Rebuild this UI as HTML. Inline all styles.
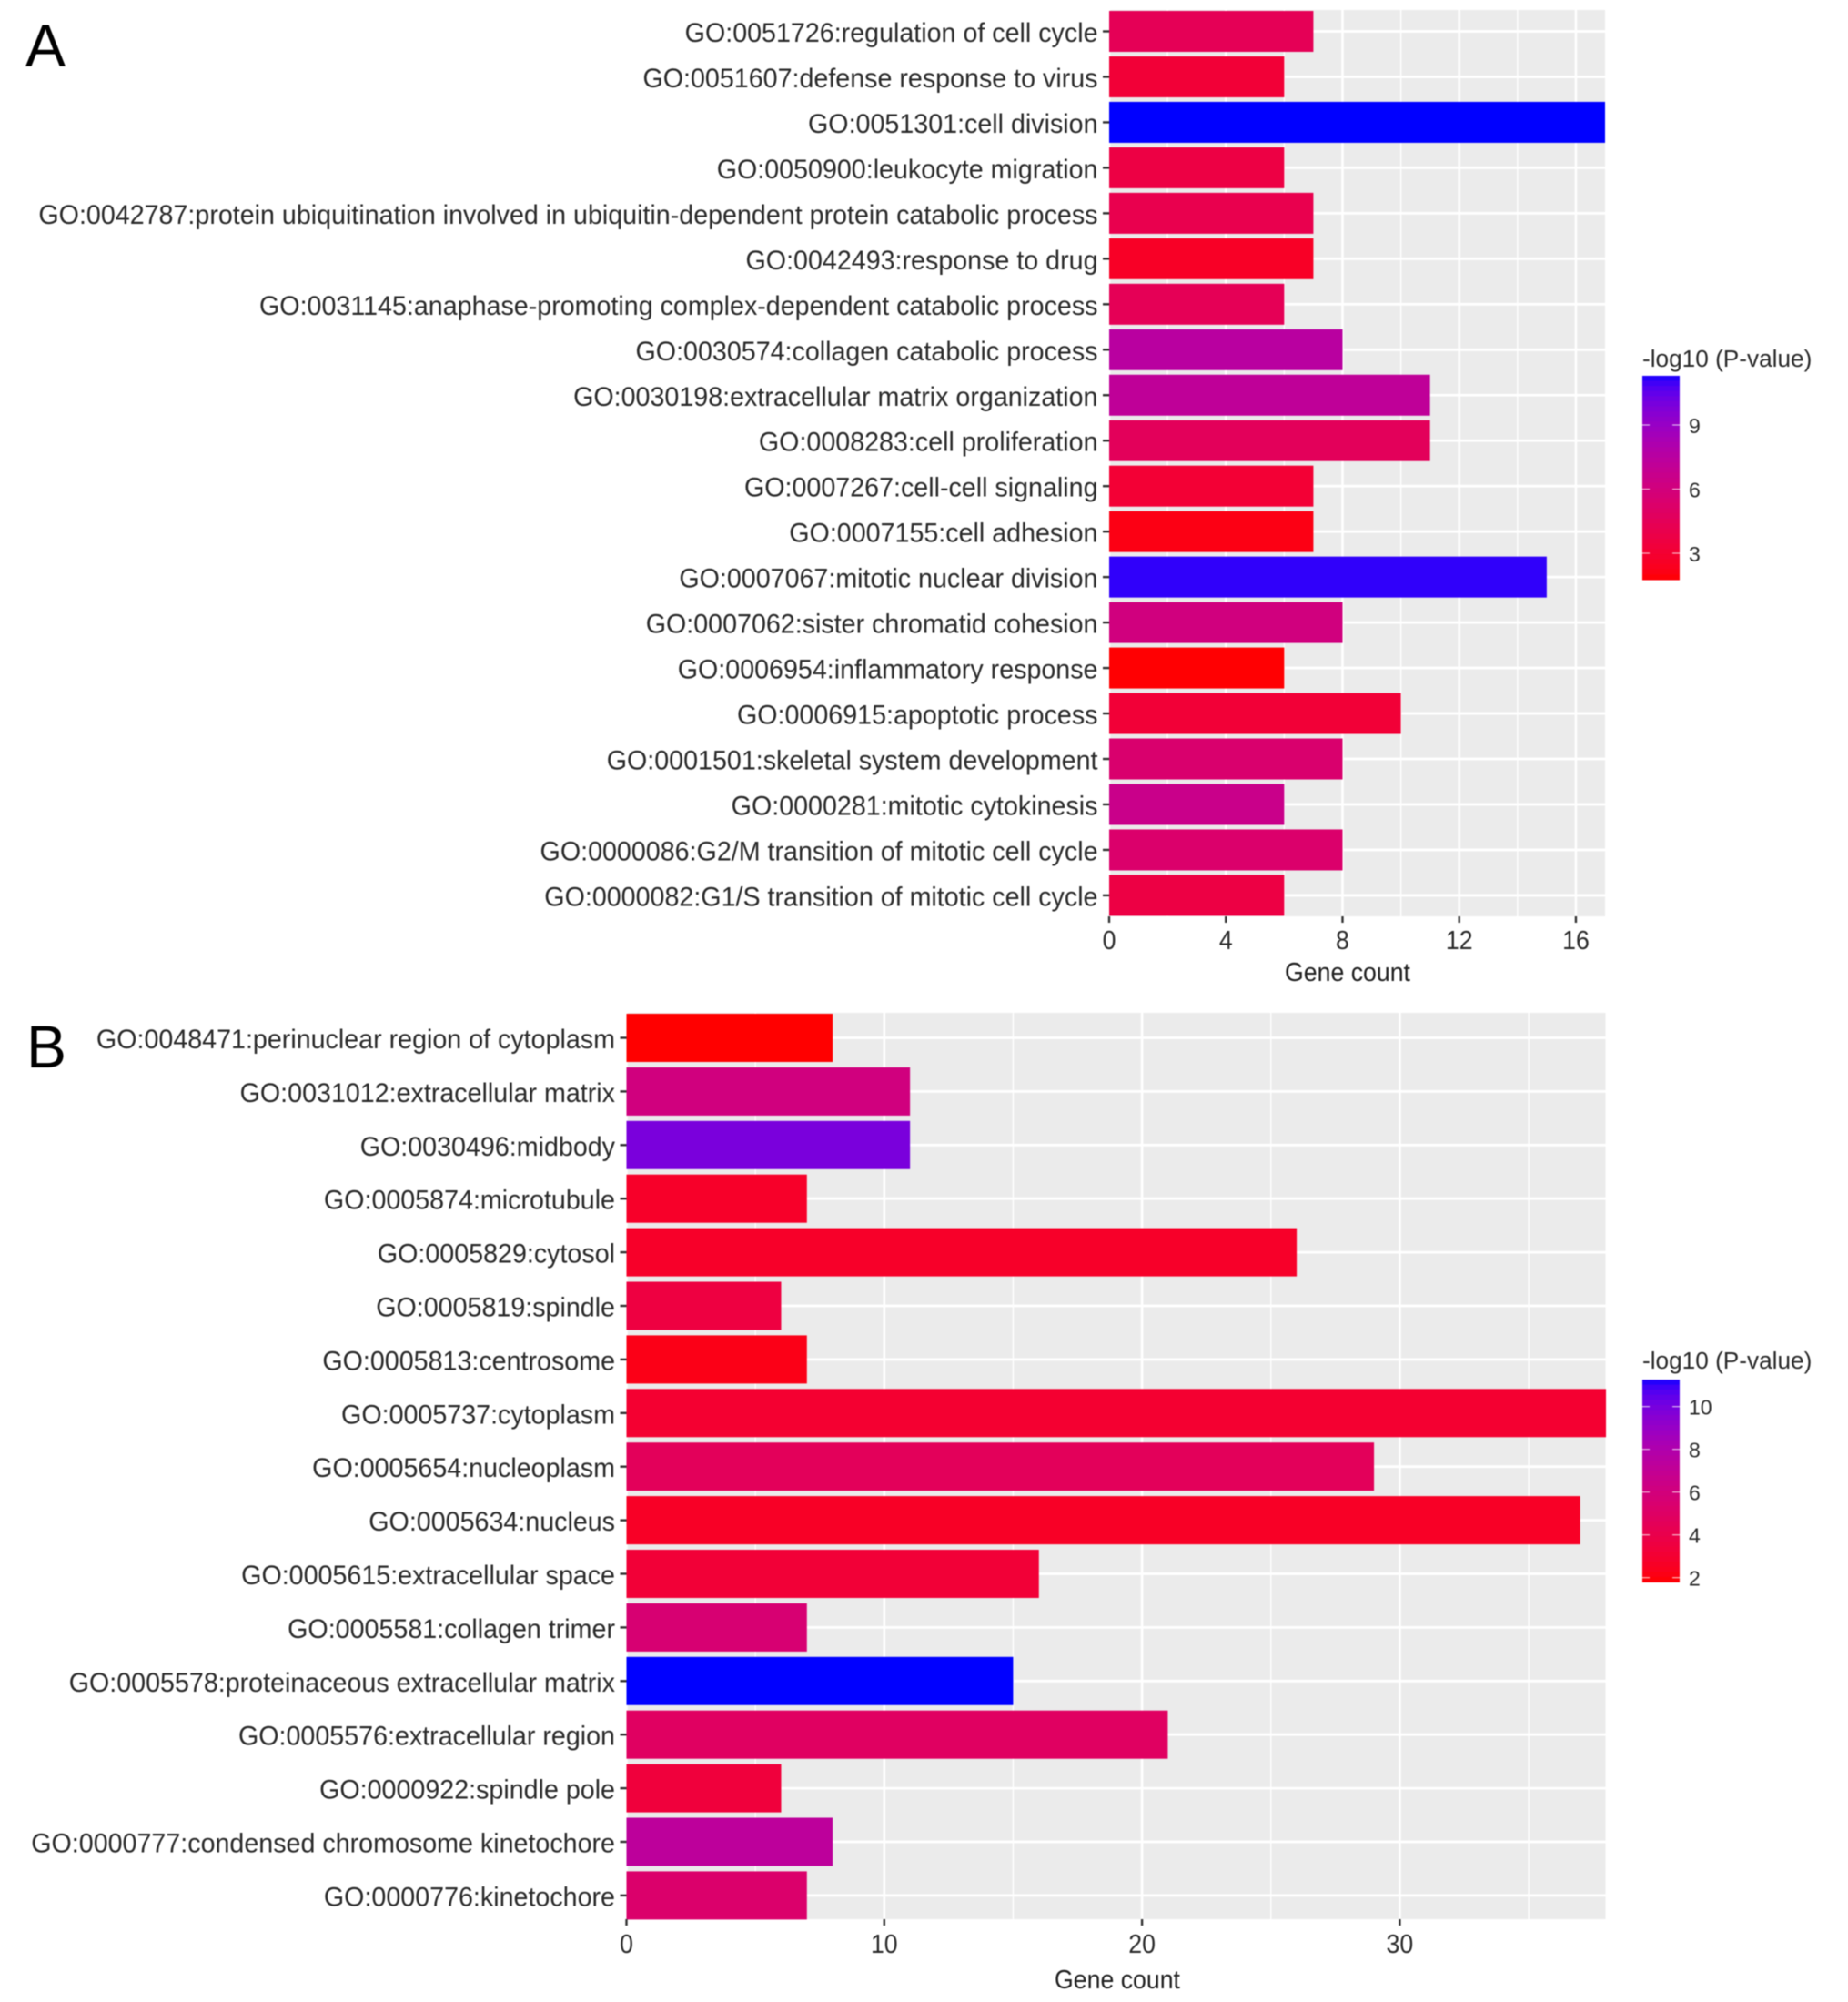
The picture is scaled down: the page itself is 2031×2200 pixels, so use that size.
<!DOCTYPE html>
<html>
<head>
<meta charset="utf-8">
<style>
html,body{margin:0;padding:0;background:#fff;width:2031px;height:2200px;overflow:hidden}
svg{display:block;filter:blur(0.6px)}
text{font-family:"Liberation Sans",sans-serif}
</style>
</head>
<body>
<svg id="figure" xmlns="http://www.w3.org/2000/svg" width="2031" height="2200" viewBox="0 0 2031 2200">
  <rect width="2031" height="2200" fill="#fff"/>
  <text x="28" y="73" font-size="66" fill="#000">A</text>
  <text x="29" y="1173" font-size="66" fill="#000">B</text>
  <g id="panelA"></g>
  <g id="panelB"></g>
</svg>
<script>
const termsA = ["GO:0051726:regulation of cell cycle","GO:0051607:defense response to virus","GO:0051301:cell division","GO:0050900:leukocyte migration","GO:0042787:protein ubiquitination involved in ubiquitin-dependent protein catabolic process","GO:0042493:response to drug","GO:0031145:anaphase-promoting complex-dependent catabolic process","GO:0030574:collagen catabolic process","GO:0030198:extracellular matrix organization","GO:0008283:cell proliferation","GO:0007267:cell-cell signaling","GO:0007155:cell adhesion","GO:0007067:mitotic nuclear division","GO:0007062:sister chromatid cohesion","GO:0006954:inflammatory response","GO:0006915:apoptotic process","GO:0001501:skeletal system development","GO:0000281:mitotic cytokinesis","GO:0000086:G2/M transition of mitotic cell cycle","GO:0000082:G1/S transition of mitotic cell cycle"];
const countsA = [7,6,17,6,7,7,6,8,11,11,7,7,15,8,6,10,8,6,8,6];
const pValuesA = [4.4,3.2,11.3,3.7,4.1,2.6,4.4,7.5,7.2,4.6,3.1,2.1,11.1,6.1,1.8,3.2,5.4,6.6,5.3,3.7];
const xTicksA = [0,4,8,12,16];
const xMinorA = [2,6,10,14];
const legendTicksA = [3,6,9];

const termsB = ["GO:0048471:perinuclear region of cytoplasm","GO:0031012:extracellular matrix","GO:0030496:midbody","GO:0005874:microtubule","GO:0005829:cytosol","GO:0005819:spindle","GO:0005813:centrosome","GO:0005737:cytoplasm","GO:0005654:nucleoplasm","GO:0005634:nucleus","GO:0005615:extracellular space","GO:0005581:collagen trimer","GO:0005578:proteinaceous extracellular matrix","GO:0005576:extracellular region","GO:0000922:spindle pole","GO:0000777:condensed chromosome kinetochore","GO:0000776:kinetochore"];
const countsB = [8,11,11,7,26,6,7,38,29,37,16,7,15,21,6,8,7];
const pValuesB = [1.8,6.1,9.9,2.7,2.7,3.6,2.2,3.0,4.6,2.6,3.2,5.6,11.26,4.9,3.4,7.3,5.3];
const xTicksB = [0,10,20,30];
const xMinorB = [5,15,25,35];
const legendTicksB = [2,4,6,8,10];

const NS = "http://www.w3.org/2000/svg";
const LABEL_SQUEEZE = 0.955;
const TICK_SQUEEZE = 0.92;

function mk(parent, tag, attrs, txt){
  const e = document.createElementNS(NS, tag);
  for (const k in attrs) e.setAttribute(k, attrs[k]);
  if (txt !== undefined) e.textContent = txt;
  parent.appendChild(e);
  return e;
}
function rgb2lab(c){
  const l = c.map(v=>{v/=255;return v>0.04045?Math.pow((v+0.055)/1.055,2.4):v/12.92;});
  const X=(0.4124*l[0]+0.3576*l[1]+0.1805*l[2])/0.95047,
        Y=(0.2126*l[0]+0.7152*l[1]+0.0722*l[2]),
        Z=(0.0193*l[0]+0.1192*l[1]+0.9505*l[2])/1.08883;
  const f=t=>t>0.008856?Math.cbrt(t):7.787*t+16/116;
  return [116*f(Y)-16,500*(f(X)-f(Y)),200*(f(Y)-f(Z))];
}
function lab2rgb(L){
  const fy=(L[0]+16)/116,fx=L[1]/500+fy,fz=fy-L[2]/200;
  const g=t=>t*t*t>0.008856?t*t*t:(t-16/116)/7.787;
  const X=g(fx)*0.95047,Y=g(fy),Z=g(fz)*1.08883;
  const lin=[3.2406*X-1.5372*Y-0.4986*Z,-0.9689*X+1.8758*Y+0.0415*Z,0.0557*X-0.2040*Y+1.0570*Z];
  return lin.map(v=>{v=Math.max(0,Math.min(1,v));v=v<=0.0031308?12.92*v:1.055*Math.pow(v,1/2.4)-0.055;return Math.round(v*255);});
}
const labLow = rgb2lab([255,0,0]), labHigh = rgb2lab([0,0,255]);
function gradient(t){
  t=Math.max(0,Math.min(1,t));
  const c=lab2rgb(labLow.map((v,i)=>v+(labHigh[i]-v)*t));
  return "rgb("+c.join(",")+")";
}

function drawPanel(g, terms, counts, pvals, xTicks, xMinor, legendTicks, o){
  const x = v => o.x0 + v*o.xUnit;
  const y = i => o.yFirst + i*o.yStep;
  const fill = v => gradient((v-o.pMin)/(o.pMax-o.pMin));

  const bg = mk(g,"rect",{x:o.x0,y:o.top,width:o.right-o.x0,height:o.bottom-o.top,fill:"#EBEBEB"});
  
  

  xMinor.forEach(v=>{
    const l = mk(g,"line",{x1:x(v),x2:x(v),y1:o.top,y2:o.bottom,stroke:"#fff","stroke-width":1.4});
    
    
  });
  xTicks.forEach(v=>{
    const l = mk(g,"line",{x1:x(v),x2:x(v),y1:o.top,y2:o.bottom,stroke:"#fff","stroke-width":2.6});
    
    
  });
  terms.forEach((t,i)=>{
    const l = mk(g,"line",{x1:o.x0,x2:o.right,y1:y(i),y2:y(i),stroke:"#fff","stroke-width":2.8});
    
    
  });
  terms.forEach((t,i)=>{
    const b = mk(g,"rect",{x:x(0),y:y(i)-o.barH/2,width:x(counts[i])-x(0),height:o.barH,fill:fill(pvals[i])});
    
    
    const tk = mk(g,"line",{x1:o.x0-7,x2:o.x0,y1:y(i),y2:y(i),stroke:"#333","stroke-width":2.4});
    
    
    const lb = mk(g,"text",{transform:"translate("+(o.x0-12.5)+","+(y(i)+o.labelDy)+") scale("+LABEL_SQUEEZE+",1)","text-anchor":"end","font-size":o.labelSize,fill:"#2a2a2a"},t);
    
    
  });
  xTicks.forEach(v=>{
    const tk = mk(g,"line",{x1:x(v),x2:x(v),y1:o.bottom,y2:o.bottom+7,stroke:"#333","stroke-width":2.4});
    
    
    const lb = mk(g,"text",{transform:"translate("+x(v)+","+o.tickBase+") scale("+TICK_SQUEEZE+",1)","text-anchor":"middle","font-size":o.tickSize,fill:"#2a2a2a"},String(v));
    
    
  });
  const at = mk(g,"text",{transform:"translate("+o.titleX+","+o.titleBase+") scale("+TICK_SQUEEZE+",1)","text-anchor":"middle","font-size":29,fill:"#202020"},"Gene count");
  
  

  const lg = mk(g,"g",{});
  
  
  const lt = mk(lg,"text",{x:o.legX,y:o.legTitleBase,"font-size":26.2,fill:"#2a2a2a"},"-log10 (P-value)");
  
  
  const legY = v => o.legTickY + (o.legTickV - v)*o.legUnit;
  const steps = 40;
  for(let s=0;s<steps;s++){
    const vTop = o.pMax-(o.pMax-o.pMin)*s/steps, vBot = o.pMax-(o.pMax-o.pMin)*(s+1)/steps;
    const r = mk(lg,"rect",{x:o.legX,y:legY(vTop),width:41,height:legY(vBot)-legY(vTop)+0.6,fill:fill((vTop+vBot)/2)});
    
    
  }
  legendTicks.forEach(v=>{
    [[o.legX,o.legX+8],[o.legX+33,o.legX+41]].forEach(p=>{
      const l = mk(lg,"line",{x1:p[0],x2:p[1],y1:legY(v),y2:legY(v),stroke:"#fff","stroke-width":1.2,"stroke-opacity":0.7});
      
      
    });
    const tl = mk(lg,"text",{x:o.legX+51,y:legY(v)+9,"font-size":23,fill:"#2a2a2a"},String(v));
    
    
  });
}

drawPanel(document.getElementById("panelA"),termsA,countsA,pValuesA,xTicksA,xMinorA,legendTicksA,{
  x0:1219,xUnit:32.06,right:1764,top:11,bottom:1007,yFirst:34.5,yStep:49.97,barH:45,
  labelSize:30,labelDy:11.5,tickBase:1043,tickSize:29,titleX:1481,titleBase:1078,
  pMin:1.77,pMax:11.3,legX:1805,legTitleBase:403,legTickY:467,legTickV:9,legUnit:23.5
});
drawPanel(document.getElementById("panelB"),termsB,countsB,pValuesB,xTicksB,xMinorB,legendTicksB,{
  x0:688.5,xUnit:28.33,right:1764.5,top:1113,bottom:2109,yFirst:1140.5,yStep:58.9,barH:53,
  labelSize:30,labelDy:11.5,tickBase:2146,tickSize:29,titleX:1228,titleBase:2185,
  pMin:1.8,pMax:11.26,legX:1805,legTitleBase:1504,legTickY:1545.7,legTickV:10,legUnit:23.5
});
</script>
</body>
</html>
